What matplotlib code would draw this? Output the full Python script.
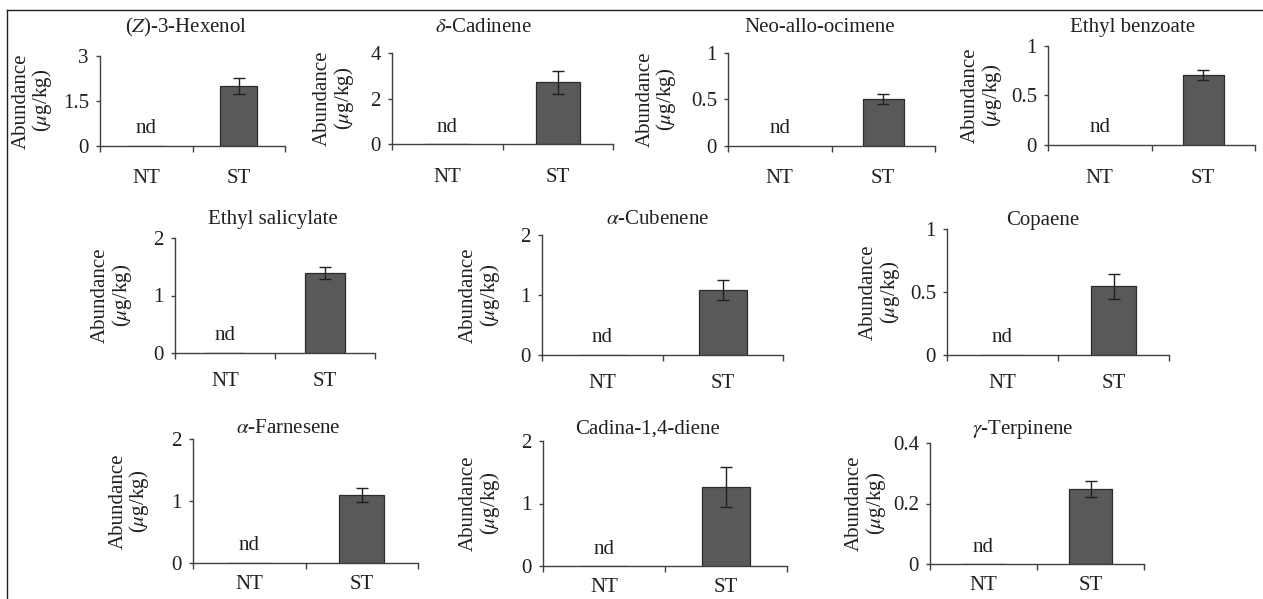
import matplotlib
matplotlib.use("Agg")
import matplotlib.pyplot as plt
from matplotlib.lines import Line2D

plt.rcParams['font.family'] = ['Liberation Serif', 'DejaVu Serif']
plt.rcParams['mathtext.fontset'] = 'stix'

# data
compounds = [r"($Z$)-3-Hexenol", r"$\delta$-Cadinene", "Neo-allo-ocimene", "Ethyl benzoate",
             "Ethyl salicylate", r"$\alpha$-Cubenene", "Copaene",
             r"$\alpha$-Farnesene", "Cadina-1,4-diene", r"$\gamma$-Terpinene"]
groups = ["NT", "ST"]
nt_values = [0, 0, 0, 0, 0, 0, 0, 0, 0, 0]
st_values = [2.0, 2.72, 0.505, 0.705, 1.39, 1.09, 0.545, 1.10, 1.27, 0.248]
st_errors = [0.28, 0.51, 0.055, 0.048, 0.11, 0.165, 0.10, 0.115, 0.32, 0.025]
y_max = [3, 4, 1, 1, 2, 2, 1, 2, 2, 0.4]

# layout in pixels: axes left, top, right, bottom / title x, title baseline / ylabel offset
W, H = 1263, 599
boxes = [(100, 56, 285, 145.7), (392, 53, 613, 144), (728, 53, 935, 145.7), (1048, 45.7, 1255, 145),
         (175, 238, 375, 353), (542, 235, 783, 355), (947, 229, 1169, 355),
         (193, 439, 418, 563), (543, 441, 787, 566), (930, 443, 1144, 564)]
titles_xy = [(186, 32.7), (483, 32), (820, 32), (1133, 31.7),
             (273, 224), (658, 224.3), (1043, 225),
             (288, 433), (648, 434), (1023, 434)]
label_off = [-67, -58, -71, -66, -63, -62, -67, -63, -63, -64]
xlab_pad = [17, 17, 17, 17, 14, 14, 14, 8.5, 8.5, 8.5]

txt = '#231f20'
fig = plt.figure(figsize=(W / 100, H / 100), dpi=100)

for i, name in enumerate(compounds):
    l, t, r, b = boxes[i]
    ax = fig.add_axes([l / W, 1 - b / H, (r - l) / W, (b - t) / H])
    ax.bar([0, 1], [nt_values[i], st_values[i]], width=0.4, color='#595959',
           edgecolor='#2b2b2b', linewidth=0.9, zorder=2)
    ax.errorbar(1, st_values[i], yerr=st_errors[i], fmt='none', ecolor='#231f20',
                elinewidth=1.0, capsize=4, capthick=1.0, zorder=3)
    ax.annotate("nd", xy=(0, 0), xytext=(0, 9), textcoords='offset points',
                ha='center', va='baseline', fontsize=15, color=txt)
    ax.set_xlim(-0.5, 1.5)
    ax.set_ylim(0, y_max[i])
    ax.set_yticks([0, y_max[i] / 2, y_max[i]])
    ax.set_yticklabels(["%g" % v for v in [0, y_max[i] / 2, y_max[i]]])
    ax.set_xticks([-0.5, 0.5, 1.5])
    ax.set_xticklabels([])
    ax.set_xticks([0, 1], minor=True)
    ax.set_xticklabels(groups, minor=True)
    ax.tick_params(axis='x', which='major', direction='out', length=4, width=1, color='#404040')
    ax.tick_params(axis='x', which='minor', length=0, pad=xlab_pad[i], labelsize=15, labelcolor=txt)
    ax.tick_params(axis='y', direction='out', length=3, width=1, color='#404040',
                   pad=5, labelsize=15, labelcolor=txt)
    for s in ['top', 'right']:
        ax.spines[s].set_visible(False)
    for s in ['left', 'bottom']:
        ax.spines[s].set_color('#404040')
        ax.spines[s].set_linewidth(1.0)
    ax.patch.set_alpha(0)
    ax.set_ylabel("Abundance\n" + r"($\mu$g/kg)", fontsize=15, color=txt, linespacing=1.0)
    ax.yaxis.set_label_coords(label_off[i] / (r - l), 0.5)
    ax.yaxis.label.set_verticalalignment('center')
    tx, ty = titles_xy[i]
    fig.text(tx / W, 1 - ty / H, name, ha='center', va='baseline', fontsize=15, color=txt)

# frame around the panels (runs off the right and bottom edge)
fig.add_artist(Line2D([7 / W, 1], [1 - 10 / H, 1 - 10 / H], color='#231f20', lw=1.0))
fig.add_artist(Line2D([7 / W, 7 / W], [0, 1 - 10 / H], color='#231f20', lw=1.0))

fig.savefig("out.png", dpi=100)
